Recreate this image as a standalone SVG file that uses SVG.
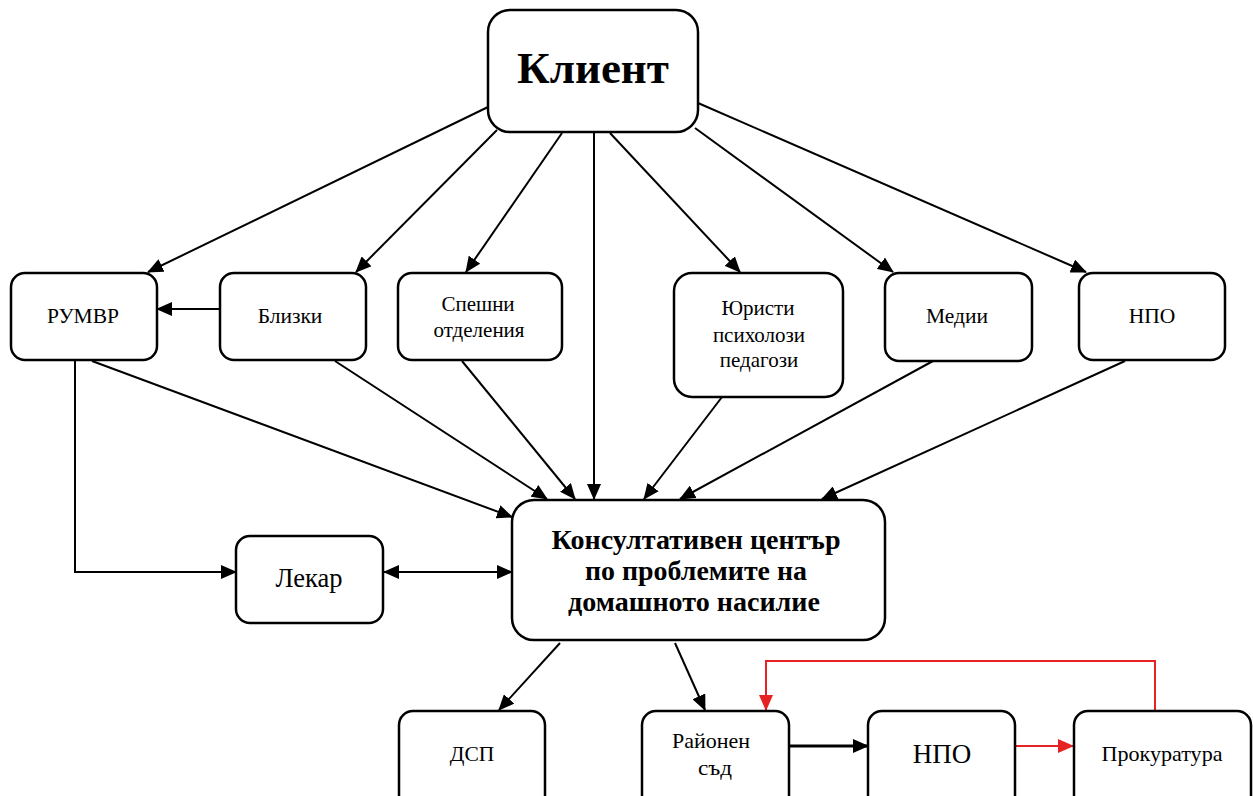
<svg xmlns="http://www.w3.org/2000/svg" width="1253" height="796" viewBox="0 0 1253 796">
<style>
.box{fill:#fff;stroke:#000;stroke-width:2.5}
.t{font-family:'Liberation Serif','DejaVu Serif',serif;fill:#000;text-anchor:middle}
.c{fill:none;stroke:#000;stroke-width:2}
.r{fill:none;stroke:#e62222;stroke-width:2}
</style>
<defs>
<marker id="a" markerUnits="userSpaceOnUse" markerWidth="16" markerHeight="14" refX="15" refY="7" orient="auto"><path d="M0,0 L16,7 L0,14 Z" fill="#000"/></marker>
<marker id="as" markerUnits="userSpaceOnUse" markerWidth="16" markerHeight="14" refX="1" refY="7" orient="auto"><path d="M16,0 L0,7 L16,14 Z" fill="#000"/></marker>
<marker id="ar" markerUnits="userSpaceOnUse" markerWidth="16" markerHeight="14" refX="15" refY="7" orient="auto"><path d="M0,0 L16,7 L0,14 Z" fill="#e62222"/></marker>
</defs>
<rect width="1253" height="796" fill="#fff"/>
<g id="connectors">
<line class="c" x1="488" y1="107" x2="148" y2="272" marker-end="url(#a)"/>
<line class="c" x1="497" y1="130" x2="356" y2="272" marker-end="url(#a)"/>
<line class="c" x1="562" y1="133" x2="466" y2="272" marker-end="url(#a)"/>
<line class="c" x1="594" y1="133" x2="594" y2="499" marker-end="url(#a)"/>
<line class="c" x1="610" y1="133" x2="740" y2="272" marker-end="url(#a)"/>
<line class="c" x1="695" y1="128" x2="893" y2="272" marker-end="url(#a)"/>
<line class="c" x1="698" y1="103" x2="1086" y2="272" marker-end="url(#a)"/>
<line class="c" x1="220" y1="309" x2="157" y2="309" marker-end="url(#a)"/>
<line class="c" x1="92" y1="361" x2="512" y2="517" marker-end="url(#a)"/>
<line class="c" x1="335" y1="361" x2="547" y2="499" marker-end="url(#a)"/>
<line class="c" x1="462" y1="361" x2="575" y2="499" marker-end="url(#a)"/>
<line class="c" x1="722" y1="397" x2="644" y2="499" marker-end="url(#a)"/>
<line class="c" x1="933" y1="361" x2="680" y2="499" marker-end="url(#a)"/>
<line class="c" x1="1125" y1="361" x2="822" y2="499" marker-end="url(#a)"/>
<polyline class="c" points="75,361 75,572 236,572" marker-end="url(#a)"/>
<line class="c" x1="384" y1="572" x2="512" y2="572" marker-start="url(#as)" marker-end="url(#a)"/>
<line class="c" x1="560" y1="643" x2="499" y2="710" marker-end="url(#a)"/>
<line class="c" x1="675" y1="643" x2="705" y2="710" marker-end="url(#a)"/>
<line class="c" style="stroke-width:3" x1="789" y1="746" x2="868" y2="746" marker-end="url(#a)"/>
<line class="r" x1="1016" y1="746" x2="1073" y2="746" marker-end="url(#ar)"/>
<polyline class="r" points="1155,711 1155,661 766,661 766,710" marker-end="url(#ar)"/>
</g>
<g id="n-klient"><rect class="box" x="488" y="10" width="210" height="122" rx="22"/><text class="t" x="593" y="83" font-size="45" font-weight="bold">Клиент</text></g>
<g id="n-rumvr"><rect class="box" x="11" y="273" width="146" height="87" rx="14"/><text class="t" x="83" y="323" font-size="21.5">РУМВР</text></g>
<g id="n-blizki"><rect class="box" x="220" y="273" width="146" height="87" rx="14"/><text class="t" x="290" y="323" font-size="21.5">Близки</text></g>
<g id="n-speshni"><rect class="box" x="398" y="273" width="164" height="87" rx="14"/><text class="t" x="478" y="311" font-size="21">Спешни</text><text class="t" x="479" y="337" font-size="21">отделения</text></g>
<g id="n-yuristi"><rect class="box" x="674" y="273" width="169" height="124" rx="18"/><text class="t" x="758" y="315" font-size="21">Юристи</text><text class="t" x="759" y="342" font-size="21">психолози</text><text class="t" x="759" y="367" font-size="21">педагози</text></g>
<g id="n-medii"><rect class="box" x="885" y="273" width="147" height="88" rx="14"/><text class="t" x="957" y="323" font-size="21.5">Медии</text></g>
<g id="n-npo1"><rect class="box" x="1079" y="273" width="146" height="87" rx="14"/><text class="t" x="1152" y="323" font-size="21.5">НПО</text></g>
<g id="n-center"><rect class="box" x="512" y="500" width="373" height="140" rx="22"/><text class="t" x="696" y="549" font-size="28" font-weight="bold" textLength="289" lengthAdjust="spacingAndGlyphs">Консултативен център</text><text class="t" x="696" y="580" font-size="28" font-weight="bold" textLength="222" lengthAdjust="spacingAndGlyphs">по проблемите на</text><text class="t" x="694" y="611" font-size="28" font-weight="bold" textLength="252" lengthAdjust="spacingAndGlyphs">домашното насилие</text></g>
<g id="n-lekar"><rect class="box" x="236" y="536" width="147" height="87" rx="14"/><text class="t" x="309" y="587" font-size="27" textLength="67" lengthAdjust="spacingAndGlyphs">Лекар</text></g>
<g id="n-dsp"><rect class="box" x="399" y="711" width="146" height="100" rx="14"/><text class="t" x="472" y="761" font-size="21.5">ДСП</text></g>
<g id="n-rayonen"><rect class="box" x="642" y="711" width="147" height="100" rx="14"/><text class="t" x="711" y="748" font-size="22" textLength="78" lengthAdjust="spacingAndGlyphs">Районен</text><text class="t" x="715" y="775" font-size="22" textLength="34" lengthAdjust="spacingAndGlyphs">съд</text></g>
<g id="n-npo2"><rect class="box" x="868" y="711" width="147" height="100" rx="14"/><text class="t" x="942" y="763" font-size="27">НПО</text></g>
<g id="n-prok"><rect class="box" x="1074" y="711" width="177" height="100" rx="14"/><text class="t" x="1162" y="761" font-size="21" textLength="121" lengthAdjust="spacingAndGlyphs">Прокуратура</text></g>
</svg>
